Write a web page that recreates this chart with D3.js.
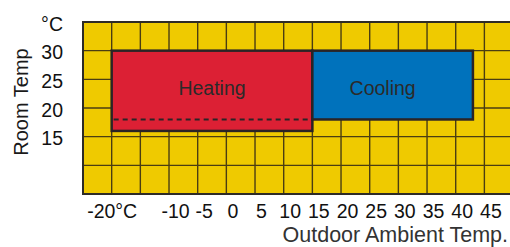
<!DOCTYPE html>
<html>
<head>
<meta charset="utf-8">
<script src="https://cdn.jsdelivr.net/npm/d3@7"></script>
<style>
  body { margin: 0; background: #fff; }
  svg { display: block; font-family: "Liberation Sans", Arial, sans-serif; }
</style>
</head>
<body>
<svg id="chart" width="510" height="247"></svg>
<script>
// operating ranges (outdoor temp x, room temp y)
var modes = ["Heating", "Cooling"];
var outdoorMin = [-20, 15];
var outdoorMax = [15, 43];
var roomMin = [16, 18];
var roomMax = [30, 30];
var heatDashTemp = 18;

var xTicks = [-20, -10, -5, 0, 5, 10, 15, 20, 25, 30, 35, 40, 45];
var xTickLabels = ["-20°C", "-10", "-5", "0", "5", "10", "15", "20", "25", "30", "35", "40", "45"];
var yTicks = [35, 30, 25, 20, 15];
var yTickLabels = ["°C", "30", "25", "20", "15"];
var gridX = [-20, -15, -10, -5, 0, 5, 10, 15, 20, 25, 30, 35, 40, 45];
var gridY = [10, 15, 20, 25, 30];

var fills = ["#dc2034", "#0072bc"];

const svg = d3.select("#chart");
const plotLeft = 83, plotTop = 22, plotBottom = 194;
const xScale = d3.scaleLinear().domain([-25, 50]).range([plotLeft, plotLeft + 15 * 28.67]);
const yScale = d3.scaleLinear().domain([5, 35]).range([plotBottom, plotTop]);

// yellow background
svg.append("rect")
  .attr("x", xScale(-25)).attr("y", yScale(35))
  .attr("width", xScale(50) - xScale(-25)).attr("height", yScale(5) - yScale(35))
  .attr("fill", "#efca00");

// grid
svg.append("g").selectAll("line").data(gridX).enter().append("line")
  .attr("x1", d => xScale(d)).attr("x2", d => xScale(d))
  .attr("y1", yScale(35)).attr("y2", yScale(5))
  .attr("stroke", "#4a3d12").attr("stroke-width", 1.4);
svg.append("g").selectAll("line").data(gridY).enter().append("line")
  .attr("x1", xScale(-25)).attr("x2", xScale(50))
  .attr("y1", d => yScale(d)).attr("y2", d => yScale(d))
  .attr("stroke", "#4a3d12").attr("stroke-width", 1.4);

// outer frame (left, top, bottom)
svg.append("path")
  .attr("d", "M" + xScale(50) + "," + yScale(35) + "H" + xScale(-25) + "V" + yScale(5) + "H" + xScale(50))
  .attr("fill", "none").attr("stroke", "#2e2b26").attr("stroke-width", 2);

// mode boxes
modes.forEach(function(m, i) {
  svg.append("rect")
    .attr("x", xScale(outdoorMin[i])).attr("y", yScale(roomMax[i]))
    .attr("width", xScale(outdoorMax[i]) - xScale(outdoorMin[i]))
    .attr("height", yScale(roomMin[i]) - yScale(roomMax[i]))
    .attr("fill", fills[i]).attr("stroke", "#2a2426").attr("stroke-width", 2.5);
});

svg.append("line")
  .attr("x1", xScale(outdoorMin[0]) + 2).attr("x2", xScale(outdoorMax[0]) - 2)
  .attr("y1", yScale(heatDashTemp)).attr("y2", yScale(heatDashTemp))
  .attr("stroke", "#2a2426").attr("stroke-width", 2).attr("stroke-dasharray", "5,4");

modes.forEach(function(m, i) {
  var cx = (xScale(outdoorMin[i]) + xScale(outdoorMax[i])) / 2;
  if (i == 1) cx = cx - 10;
  svg.append("text")
    .attr("x", cx).attr("y", yScale(22.3))
    .attr("text-anchor", "middle")
    .attr("font-size", 19.5).attr("fill", "#2b2a2a")
    .text(m);
});

// axes
const yAxis = d3.axisLeft(yScale).tickValues(yTicks).tickSize(0).tickPadding(20)
  .tickFormat((d, i) => yTickLabels[i]);
const yG = svg.append("g").attr("transform", "translate(" + plotLeft + ",2)").call(yAxis);
yG.select(".domain").remove();
yG.selectAll("text").attr("font-size", 19.5).attr("fill", "#111").attr("font-family", null);

const xAxis = d3.axisBottom(xScale).tickValues(xTicks).tickSize(0).tickPadding(10)
  .tickFormat((d, i) => xTickLabels[i]);
const xG = svg.append("g").attr("transform", "translate(0," + plotBottom + ")").call(xAxis);
xG.select(".domain").remove();
xG.selectAll("text").attr("font-size", 19.5).attr("fill", "#111").attr("font-family", null)
  .attr("dx", d => d == -20 ? 0 : 6);

svg.append("text")
  .attr("transform", "translate(28,102) rotate(-90)")
  .attr("text-anchor", "middle").attr("font-size", 20).attr("fill", "#1a1a1a")
  .text("Room Temp");

svg.append("text")
  .attr("x", 508).attr("y", 242)
  .attr("text-anchor", "end").attr("font-size", 21.5).attr("fill", "#333")
  .text("Outdoor Ambient Temp.");
</script>
</body>
</html>
